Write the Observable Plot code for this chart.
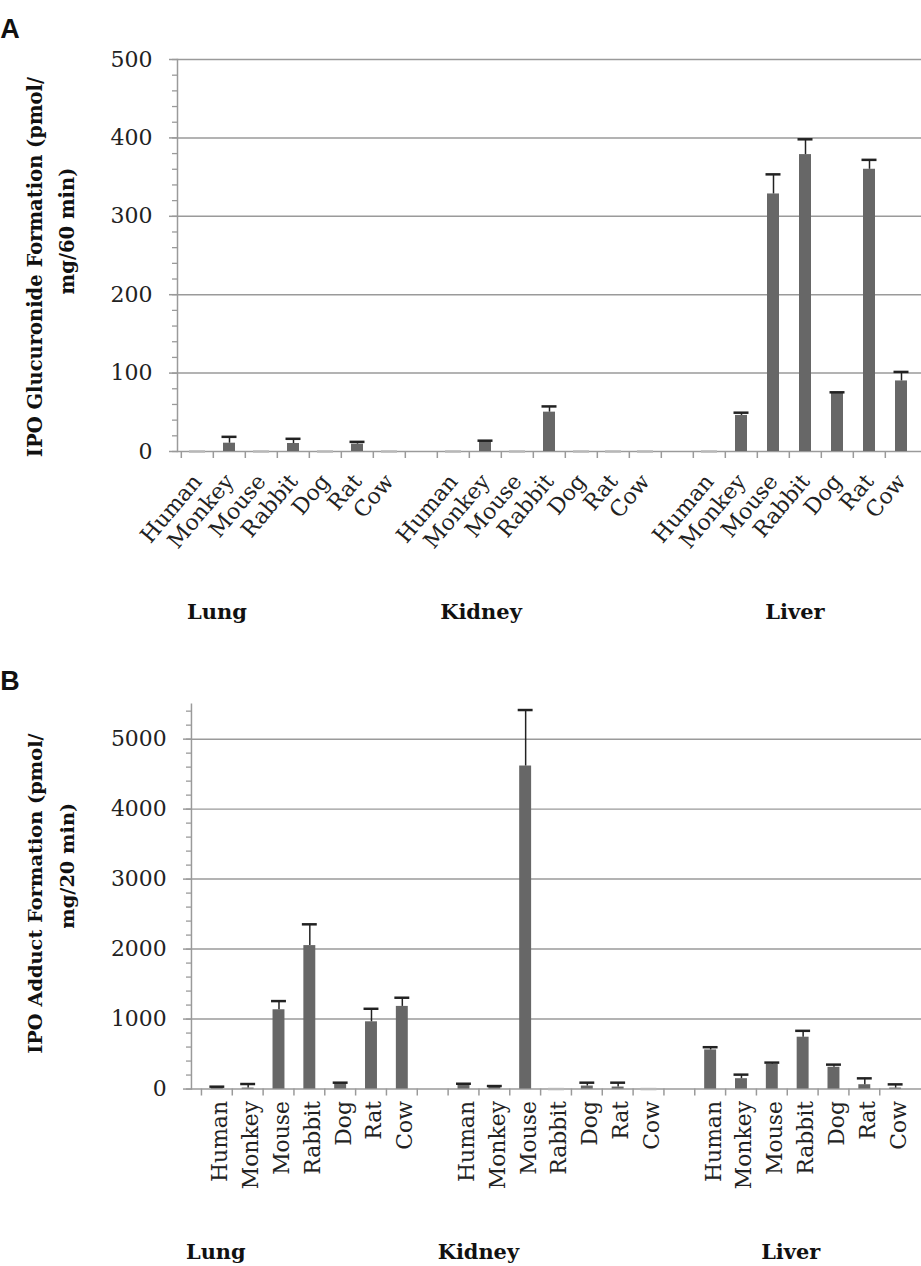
<!DOCTYPE html>
<html>
<head>
<meta charset="utf-8">
<script src="https://cdn.jsdelivr.net/npm/d3@7"></script>
<script src="https://cdn.jsdelivr.net/npm/@observablehq/plot@0.6"></script>
<style>
  html, body { margin: 0; padding: 0; background: #fff; overflow: hidden; }
  #wrap { position: relative; width: 921px; height: 1266px; overflow: hidden; }
  .panel { position: absolute; left: 0; }
</style>
</head>
<body>
<div id="wrap">
  <div id="panelA" class="panel" style="top:0px"></div>
  <div id="panelB" class="panel" style="top:640px"></div>
</div>
<script>
// ---- Data ----
const species = ["Human", "Monkey", "Mouse", "Rabbit", "Dog", "Rat", "Cow"];
const tissues = ["Lung", "Kidney", "Liver"];

// Panel A: IPO glucuronide formation (pmol/mg/60 min), mean and SD
const glucLung     = [0, 10.6, 0, 10.2, 0, 9.4, 0];
const glucLungSD   = [0, 8.1, 0, 6.0, 0, 2.9, 0];
const glucKidney   = [0, 13.2, 0, 50.2, 0, 0, 0];
const glucKidneySD = [0, 0.6, 0, 7.3, 0, 0, 0];
const glucLiver    = [0, 46, 328.5, 378.7, 74.7, 360, 90];
const glucLiverSD  = [0, 3.5, 25, 19.5, 0.8, 12, 11.5];

// Panel B: IPO adduct formation (pmol/mg/20 min), mean and SD
const addLung      = [30, 14, 1133, 2050, 81, 961, 1181];
const addLungSD    = [4, 58, 124, 304, 10, 186, 124];
const addKidney    = [72, 33, 4616, 0, 43, 29, 0];
const addKidneySD  = [4, 10, 800, 0, 48, 62, 0];
const addLiver     = [559, 148, 354, 741, 311, 62, 14];
const addLiverSD   = [39, 58, 24, 91, 38, 91, 53];

// Axis ticks
const ticksA = [0, 100, 200, 300, 400, 500];
const gridA = [100, 200, 300, 400, 500];
const ticksB = [0, 1000, 2000, 3000, 4000, 5000];
const gridB = [1000, 2000, 3000, 4000, 5000];

// ---- Build tables ----
const keys = [];
tissues.forEach((t, i) => {
  if (i > 0) keys.push("gap" + i);
  species.forEach(s => keys.push(t + "|" + s));
});
const speciesLabel = k => k.startsWith("gap") ? "" : k.split("|")[1];

function table(means, sds) {
  const out = [];
  tissues.forEach((t, ti) => {
    species.forEach((s, si) => {
      out.push({key: t + "|" + s, value: means[ti][si], sd: sds[ti][si]});
    });
  });
  return out;
}
const dataA = table([glucLung, glucKidney, glucLiver], [glucLungSD, glucKidneySD, glucLiverSD]);
const dataB = table([addLung, addKidney, addLiver], [addLungSD, addKidneySD, addLiverSD]);

const GRAY = "#9a9a9a";
const BAR = "#676767";
const INK = "#222";

function panel(o) {
  const step = (o.width - o.marginLeft) / keys.length;
  const nz = o.data.filter(d => d.value > 0);
  const z = o.data.filter(d => d.value === 0);
  return Plot.plot({
    width: o.width, height: o.height,
    marginTop: o.marginTop, marginBottom: o.marginBottom,
    marginLeft: o.marginLeft, marginRight: 0,
    style: {fontFamily: "'DejaVu Serif', serif", fontSize: "22px", color: INK, background: "white", overflow: "visible"},
    x: {domain: keys, paddingInner: 0.62, paddingOuter: 0.31},
    y: {domain: [0, o.yMax]},
    marks: [
      Plot.gridY(o.grid, {stroke: GRAY, strokeOpacity: 1, strokeWidth: 1.5}),
      Plot.axisY(o.minor, {tickSize: 5, tickFormat: () => "", color: GRAY, strokeWidth: 1.3, label: null}),
      Plot.axisY(o.ticks, {tickSize: 8, tickFormat: () => "", color: GRAY, strokeWidth: 1.5, label: null}),
      Plot.axisY(o.ticks, {tickSize: 0, tickPadding: 25, tickFormat: d => String(d), color: INK, fontSize: 22, label: null}),
      Plot.axisX(keys, {tickSize: 7, tickFormat: () => "", dx: -step / 2, color: GRAY, strokeWidth: 1.5, label: null}),
      Plot.axisX(keys, {tickSize: 0, tickPadding: o.labelPad, tickRotate: o.rotate, tickFormat: speciesLabel, color: INK, fontSize: 22, label: null, dx: o.labelDx || 0}),
      Plot.ruleY([0], {stroke: GRAY, strokeWidth: 1.5}),
      Plot.barY(nz, {x: "key", y: "value", fill: BAR}),
      Plot.tickY(z, {x: "key", y: "value", stroke: "#b8b8b8", strokeWidth: 2.5, insetLeft: -2, insetRight: -2}),
      Plot.ruleX(nz, {x: "key", y1: "value", y2: d => d.value + d.sd, stroke: INK, strokeWidth: 1.5}),
      Plot.tickY(nz, {x: "key", y: d => d.value + d.sd, stroke: INK, strokeWidth: 2.5, insetLeft: -1.5, insetRight: -1.5}),
      Plot.frame({anchor: "left", stroke: GRAY, strokeWidth: 1.5})
    ]
  });
}

function decorate(svg, letter, letterY, title1, title2, t1y, t2y, groupY) {
  const s = d3.select(svg);
  s.append("text").attr("x", 10).attr("y", letterY)
    .attr("font-family", "'Liberation Sans', Arial, sans-serif").attr("font-weight", "bold")
    .attr("font-size", 27).attr("fill", "#111").text(letter);
  const t = [[title1, 42, t1y], [title2, 74, t2y]];
  t.forEach(([txt, x, y]) => {
    s.append("text").attr("transform", `translate(${x},${y}) rotate(-90)`)
      .attr("text-anchor", "middle")
      .attr("font-family", "'DejaVu Serif', serif").attr("font-weight", "bold")
      .attr("font-size", 19.5).attr("fill", "#111").text(txt);
  });
  const gx = [217, 481, 795];
  tissues.forEach((g, i) => {
    s.append("text").attr("x", gx[i]).attr("y", groupY).attr("text-anchor", "middle")
      .attr("font-family", "'DejaVu Serif', serif").attr("font-weight", "bold")
      .attr("font-size", 21).attr("fill", "#111").text(g);
  });
}

const svgA = panel({
  data: dataA, yMax: 500, ticks: ticksA, grid: gridA, minor: d3.range(0, 501, 20),
  width: 921, height: 640, marginTop: 59, marginBottom: 640 - 451, marginLeft: 177,
  rotate: -50, labelPad: 26
});
decorate(svgA, "A", 38, "IPO Glucuronide Formation (pmol/", "mg/60 min)", 267, 231, 619);
document.getElementById("panelA").appendChild(svgA);

const svgB = panel({
  data: dataB, yMax: 5500, ticks: ticksB, grid: gridB, minor: d3.range(0, 5500, 200),
  width: 926, height: 626, marginTop: 64, marginBottom: 626 - 451, marginLeft: 192,
  rotate: -90, labelPad: 12, labelDx: 3
});
decorate(svgB, "B", 50, "IPO Adduct Formation (pmol/", "mg/20 min)", 255, 227, 622);
document.getElementById("panelB").appendChild(svgB);
</script>
</body>
</html>
